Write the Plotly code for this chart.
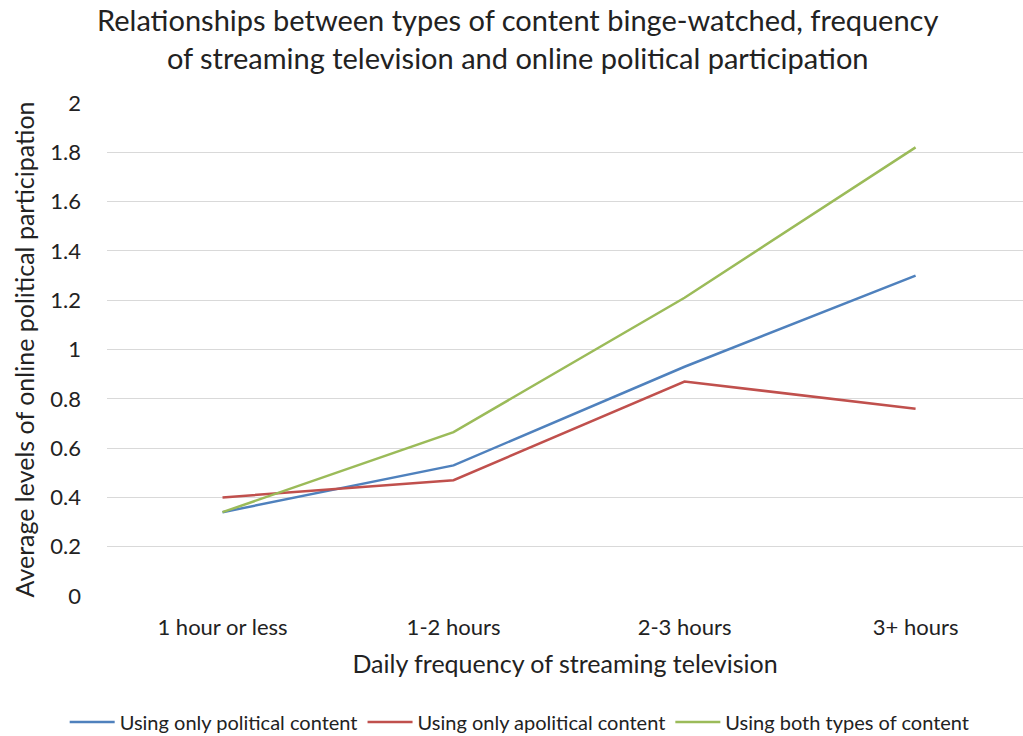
import plotly.graph_objects as go

categories = ["1 hour or less", "1-2 hours", "2-3 hours", "3+ hours"]
political = [0.34, 0.53, 0.93, 1.30]
apolitical = [0.40, 0.47, 0.87, 0.76]
both = [0.34, 0.665, 1.21, 1.82]
series_names = ["Using only political content", "Using only apolitical content", "Using both types of content"]
colors = ["#4F81BD", "#C0504D", "#9BBB59"]
y_ticks = [0, 0.2, 0.4, 0.6, 0.8, 1, 1.2, 1.4, 1.6, 1.8, 2]
title_text = ("Relationships between types of content binge-watched, frequency<br>"
              "of streaming television and online political participation")

FONT = "Lato, Open Sans, sans-serif"

fig = go.Figure()
for name, vals, c in zip(series_names, [political, apolitical, both], colors):
    fig.add_trace(go.Scatter(x=list(range(len(categories))), y=vals, mode="lines", name=name,
                             line=dict(color=c, width=2.5)))

fig.add_annotation(text=title_text, xref="paper", yref="paper", x=0.4476, y=1.208,
                   xanchor="center", yanchor="top", showarrow=False, align="center",
                   font=dict(size=29, family=FONT, color="#222222"))

fig.update_layout(
    width=1023, height=736,
    margin=dict(l=107, r=0, t=103, b=140),
    paper_bgcolor="white", plot_bgcolor="white",
    font=dict(family=FONT, color="#222222"),
    xaxis=dict(range=[-0.5, 3.465], tickmode="array", tickvals=list(range(len(categories))), ticktext=categories,
               showgrid=False, zeroline=False, showline=False, ticks="",
               tickfont=dict(size=22), ticklabelstandoff=16,
               title=dict(text="Daily frequency of streaming television", font=dict(size=25), standoff=16)),
    yaxis=dict(range=[0, 2], tickvals=y_ticks, ticktext=[f"{v:g}" for v in y_ticks],
               showgrid=True, gridcolor="#D9D9D9", gridwidth=1.3, zeroline=False, showline=False, ticks="",
               tickfont=dict(size=22), ticklabelstandoff=25,
               title=dict(text="Average levels of online political participation", font=dict(size=25), standoff=8)),
    legend=dict(orientation="h", x=0.508, xanchor="center", xref="container", y=0.019, yanchor="middle", yref="container",
                font=dict(size=20), itemwidth=45, tracegroupgap=0),
    showlegend=True,
)

fig.write_html("out.html")
